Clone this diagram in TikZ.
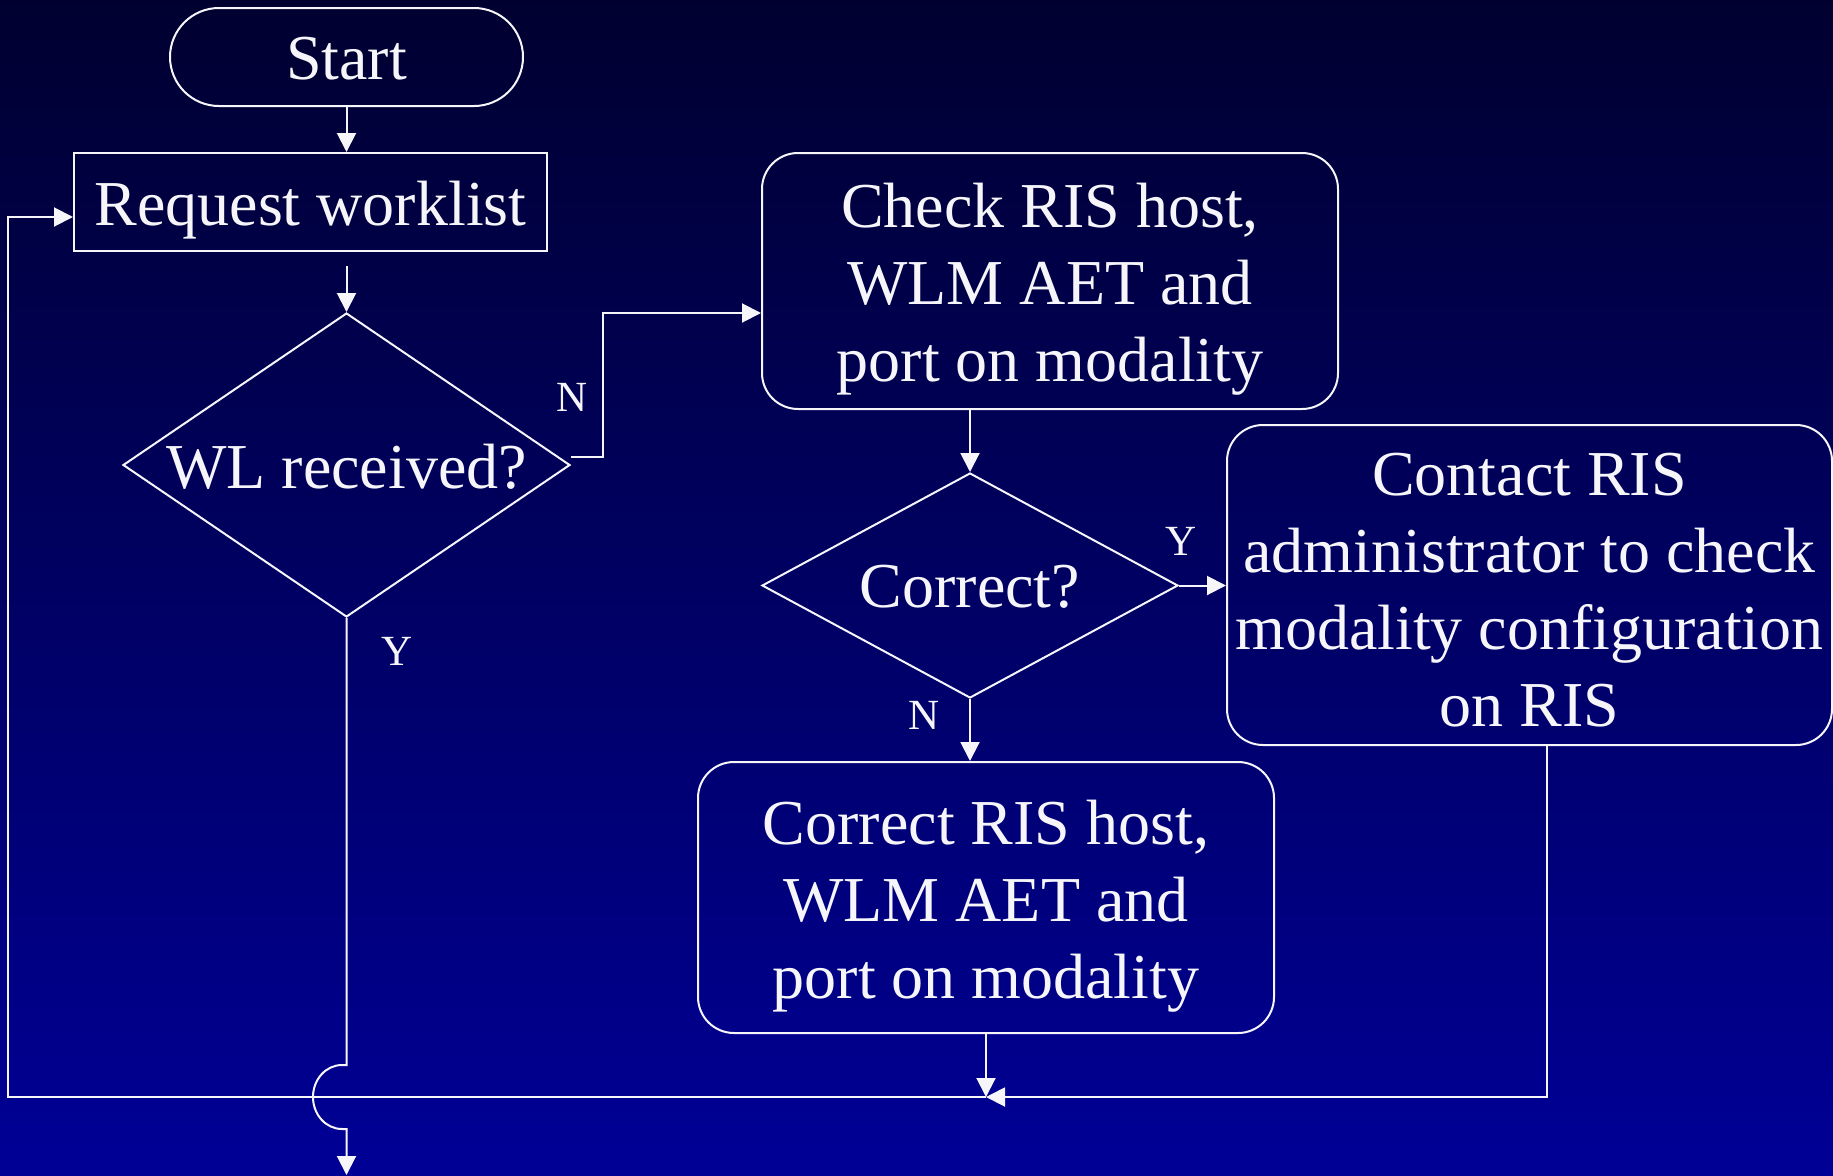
\documentclass[tikz,border=0pt]{standalone}
\usepackage{fontspec}
\setmainfont{Liberation Serif}
\usetikzlibrary{shapes.geometric,arrows.meta,calc}
\definecolor{bgtop}{RGB}{0,0,48}
\definecolor{bgbot}{RGB}{0,0,150}
\definecolor{ink}{RGB}{246,246,250}

\begin{document}
\begin{tikzpicture}[x=1pt,y=-1pt,
  frame/.style={draw=ink, line width=2pt, inner sep=0pt},
  roundbox/.style={frame, rounded corners=36pt},
  decision/.style={frame, diamond},
  caption/.style={text=ink, inner sep=0pt, align=center,
                  font=\fontsize{64}{77}\selectfont},
  tag/.style={text=ink, inner sep=0pt, font=\fontsize{43}{50}\selectfont},
  flow/.style={draw=ink, line width=2pt, -{Triangle[length=19pt,width=19pt]}},
]
% background
\useasboundingbox (0,0) rectangle (1833,1175);
\shade[top color=bgtop, bottom color=bgbot] (0,0) rectangle (1833,1175);

% shapes
\node[frame, rounded corners=49pt, minimum width=353pt, minimum height=98pt] (start) at (346.5,57) {};
\node[frame, minimum width=473pt, minimum height=98pt] (req) at (310.5,202) {};
\node[decision, minimum width=447pt, minimum height=304pt] (wl) at (346.5,465) {};
\node[roundbox, minimum width=576pt, minimum height=256pt] (check) at (1050,281) {};
\node[decision, minimum width=416pt, minimum height=225pt] (ok) at (970,585.5) {};
\node[roundbox, minimum width=605pt, minimum height=320pt] (contact) at (1529.5,585) {};
\node[roundbox, minimum width=576pt, minimum height=271pt] (fix) at (986,897.5) {};

% texts
\node[caption] (startt) at ([yshift=-2pt]start.center) {Start};
\node[caption] (reqt) at ([yshift=-8pt]req.center) {Request worklist};
\node[caption] (wlt) at ([yshift=-2pt]wl.center) {WL received?};
\node[caption] (checkt) at ([yshift=-8pt]check.center) {Check RIS host,\\WLM AET and\\port on modality};
\node[caption] (okt) at ([yshift=-1pt]ok.center) {Correct?};
\node[caption] (contactt) at ([yshift=-5pt]contact.center)
  {Contact RIS\\administrator to check\\modality configuration\\on RIS};
\node[caption] (fixt) at ([yshift=-9pt]fix.center) {Correct RIS host,\\WLM AET and\\port on modality};

% branch labels
\node[tag] (nA) at (572,397) {N};
\node[tag] (yA) at (397,651) {Y};
\node[tag] (yB) at (1181,541) {Y};
\node[tag] (nB) at (924,715) {N};

% connectors
\coordinate (merge) at (986,1097);
\draw[flow] (start.south) -- (start.south |- req.north);
\draw[flow] ($(req.south -| wl.north)+(0,14)$) -- (wl.north);
\draw[flow] ([yshift=8pt]wl.east) -- ++(32,0) |- ($(check.west)+(0,32)$);
\draw[flow] (check.south -| ok.north) -- (ok.north);
\draw[flow] (ok.east) -- (ok.east -| contact.west);
\draw[flow] (ok.south) -- (ok.south |- fix.north);
\draw[flow] (fix.south) -- (merge);
\draw[flow] ($(contact.south)+(17.5,0)$) |- (merge);
\draw[flow] (merge) -| ($(req.west)+(-65,15)$) -- ($(req.west)+(0,15)$);
% Y branch, hopping over the return line
\draw[flow] (wl.south) -- (346.5,1065) -- (342,1065)
  arc[start angle=90, end angle=270, x radius=29pt, y radius=32pt]
  -- (346.5,1129) -- (346.5,1175);
\end{tikzpicture}
\end{document}
